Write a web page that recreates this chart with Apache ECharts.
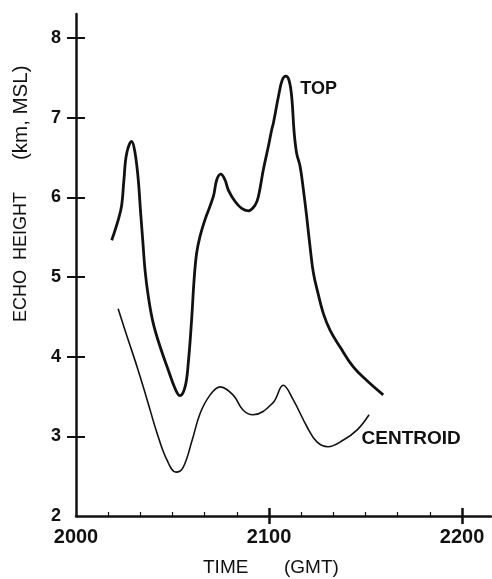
<!DOCTYPE html>
<html><head><meta charset="utf-8">
<script src="https://cdn.jsdelivr.net/npm/echarts@6/dist/echarts.min.js"></script>
<style>html,body{margin:0;padding:0;background:#fff}#c{width:492px;height:579px}</style>
</head><body><div id="c"></div><script>
// time in minutes after 2000 GMT
const topTime = [11.1, 13.15, 14.2, 14.9, 15.75, 17.3, 18.35, 19.35, 20.1, 20.75, 21.45, 22.5, 24.0, 26.1, 28.7, 30.8, 32.3, 33.9, 34.9, 36.0, 36.7, 37.5, 38.55, 40.1, 42.7, 43.75, 45.0, 46.3, 47.35, 49.4, 51.5, 53.55, 55.65, 56.7, 58.2, 59.8, 60.85, 61.35, 63.0, 64.1, 65.2, 66.2, 67.05, 67.8, 68.6, 69.65, 70.7, 71.7, 72.75, 73.8, 75.2, 76.9, 79.0, 82.1, 86.2, 90.4, 95.5];
const topHeight = [5.46, 5.72, 5.90, 6.22, 6.55, 6.70, 6.56, 6.22, 5.80, 5.46, 5.09, 4.75, 4.42, 4.13, 3.83, 3.60, 3.51, 3.62, 3.92, 4.50, 4.96, 5.30, 5.51, 5.72, 6.01, 6.22, 6.29, 6.22, 6.09, 5.95, 5.86, 5.83, 5.90, 6.01, 6.34, 6.64, 6.85, 6.93, 7.28, 7.47, 7.52, 7.47, 7.26, 6.82, 6.55, 6.39, 6.09, 5.76, 5.38, 5.05, 4.80, 4.54, 4.33, 4.12, 3.87, 3.70, 3.52];
const centroidTime = [13.1, 15.9, 19.0, 22.1, 25.2, 28.3, 31.1, 33.3, 36.1, 38.6, 41.7, 44.8, 48.8, 51.9, 55.0, 61.2, 64.4, 67.5, 71.8, 74.9, 78.3, 83.0, 87.4, 91.1];
const centroidHeight = [4.60, 4.25, 3.87, 3.46, 3.04, 2.70, 2.55, 2.61, 2.95, 3.29, 3.52, 3.62, 3.52, 3.33, 3.27, 3.42, 3.64, 3.46, 3.12, 2.93, 2.87, 2.95, 3.08, 3.27];
const xTickValues = [0, 60, 120];
const xTickLabels = ['2000', '2100', '2200'];
const yTickValues = [2, 3, 4, 5, 6, 7, 8];

const FONT = 'Liberation Sans, Arial, sans-serif';
const INK = '#111';
const zip = (a, b) => a.map((v, i) => [v, b[i]]);
const topData = zip(topTime, topHeight);
const cenData = zip(centroidTime, centroidHeight);
const peakIdx = topHeight.indexOf(Math.max(...topHeight));
const lastIdx = cenData.length - 1;

const chart = echarts.init(document.getElementById('c'), null, {renderer: 'canvas'});
const xBase = {type: 'value', min: 0, max: 129, position: 'bottom', splitLine: {show: false}};
const yBase = {type: 'value', min: 2, max: 8.3, interval: 1, position: 'left', splitLine: {show: false}};
chart.setOption({
  backgroundColor: '#fff',
  animation: false,
  grid: {left: 76, right: 1, top: 14, bottom: 63, outerBoundsMode: 'none'},
  xAxis: [
    Object.assign({}, xBase, {
      interval: 60,
      axisLine: {show: true, lineStyle: {color: INK, width: 2.5}},
      axisTick: {show: true, inside: false, length: 8, customValues: [60, 120], lineStyle: {color: INK, width: 2.5}},
      axisLabel: {customValues: xTickValues, margin: 11, fontSize: 20, fontWeight: 'bold', color: INK, fontFamily: FONT,
        formatter: v => { const i = xTickValues.indexOf(v); return i >= 0 ? xTickLabels[i] : ''; }}
    }),
    Object.assign({}, xBase, {
      interval: 60,
      axisLine: {show: false},
      axisTick: {show: true, inside: true, length: 8, customValues: [60, 120], lineStyle: {color: INK, width: 2.5}},
      axisLabel: {show: false}
    }),
    Object.assign({}, xBase, {
      interval: 10,
      axisLine: {show: false},
      axisTick: {show: true, inside: true, length: 4, customValues: [10, 20, 30, 40, 50, 70, 80, 90, 100, 110], lineStyle: {color: INK, width: 1.2}},
      axisLabel: {show: false}
    })
  ],
  yAxis: [
    Object.assign({}, yBase, {
      axisLine: {show: true, lineStyle: {color: INK, width: 2.5}},
      axisTick: {show: true, inside: false, length: 9, customValues: [3, 4, 5, 6, 7, 8], lineStyle: {color: INK, width: 2}},
      axisLabel: {customValues: yTickValues, margin: 15, fontSize: 18, fontWeight: 'bold', color: INK, fontFamily: FONT,
        formatter: v => (yTickValues.indexOf(v) >= 0 ? String(v) : '')}
    }),
    Object.assign({}, yBase, {
      axisLine: {show: false},
      axisTick: {show: true, inside: true, length: 9, customValues: [3, 4, 5, 6, 7, 8], lineStyle: {color: INK, width: 2}},
      axisLabel: {show: false}
    })
  ],
  graphic: [
    {type: 'text', left: 203, top: 558, style: {text: 'TIME', font: '19px ' + FONT, fill: INK}},
    {type: 'text', left: 284, top: 558, style: {text: '(GMT)', font: '19px ' + FONT, fill: INK}},
    {type: 'text', x: 12, y: 322, rotation: Math.PI / 2, style: {text: 'ECHO  HEIGHT', font: '18px ' + FONT, fill: INK, align: 'left', verticalAlign: 'top'}},
    {type: 'text', x: 11, y: 160, rotation: Math.PI / 2, style: {text: '(km, MSL)', font: '20.5px ' + FONT, fill: INK, align: 'left', verticalAlign: 'top'}}
  ],
  series: [
    {
      name: 'TOP', type: 'line', data: topData, symbol: 'none', smooth: 0.4,
      lineStyle: {color: INK, width: 2.8},
      markPoint: {symbol: 'circle', symbolSize: 1, itemStyle: {color: 'rgba(0,0,0,0)'},
        data: [{coord: topData[peakIdx], label: {show: true, formatter: 'TOP', position: 'right', distance: 6, offset: [8, 13], fontSize: 18, fontWeight: 'bold', color: INK, fontFamily: FONT}}]}
    },
    {
      name: 'CENTROID', type: 'line', data: cenData, symbol: 'none', smooth: 0.4,
      lineStyle: {color: INK, width: 1.6},
      markPoint: {symbol: 'circle', symbolSize: 1, itemStyle: {color: 'rgba(0,0,0,0)'},
        data: [{coord: cenData[lastIdx], label: {show: true, formatter: 'CENTROID', position: 'right', distance: 5, offset: [-13, 24], fontSize: 19, fontWeight: 'bold', color: INK, fontFamily: FONT}}]}
    }
  ]
});
</script></body></html>
